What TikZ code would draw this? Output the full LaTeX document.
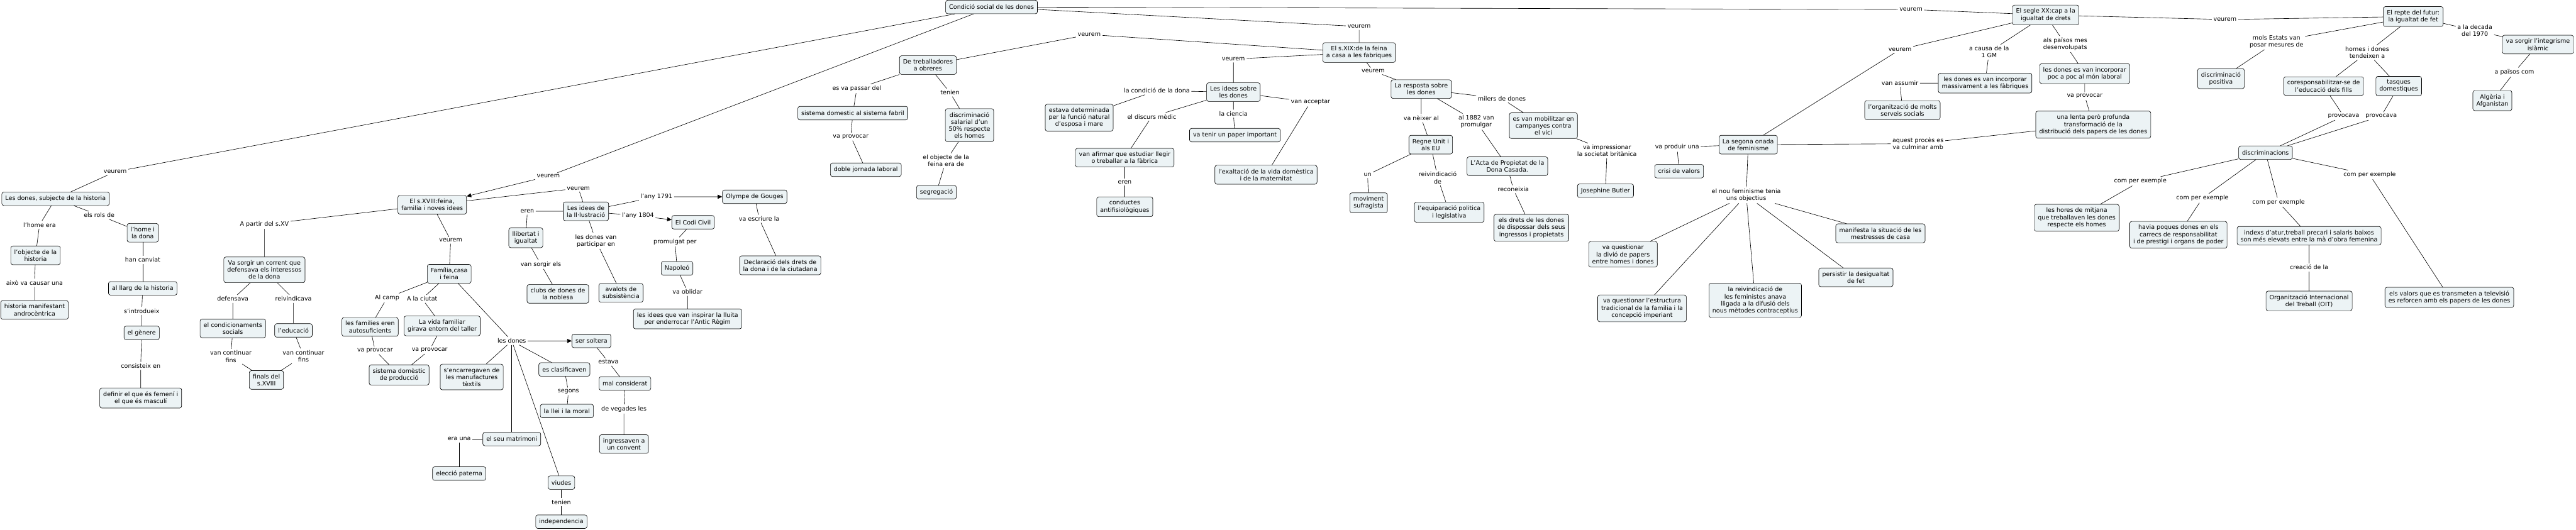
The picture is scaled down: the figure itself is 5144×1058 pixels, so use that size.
\documentclass[tikz,border=0pt]{standalone}
\usepackage{fontspec}
\setmainfont{DejaVu Sans}
\usetikzlibrary{positioning}
\usetikzlibrary{arrows.meta}
\definecolor{boxfill}{RGB}{236,243,245}

\begin{document}
\begin{tikzpicture}[on grid, line width=0.8pt, >={Triangle[length=9pt, width=8pt]}, concept/.style = {draw, rounded corners=4pt, fill=boxfill, align=center, inner xsep=7pt, inner ysep=7pt, minimum height=27pt, font=\fontsize{12}{14}\selectfont}, link/.style = {align=center, inner sep=3pt, font=\fontsize{12}{14}\selectfont}]
            \path[use as bounding box, fill=white] (-1980pt,14pt) rectangle (3164pt,-1044pt);
            \node[concept] (1) {Condició social de les dones};
            \node[link] (l1) [below left=329pt and 1750pt of 1] {veurem};
            \node[concept] (2) [below left=54pt and 119pt of l1] {Les dones, subjecte de la historia};
            \node[link] (l2) [below left=52pt and 32pt of 2] {l'home era};
            \node[concept] (4) [below left=61pt and 8pt of l2] {l'objecte de la\\historia};
            \node[link] (l4) [below left=55pt and 2pt of 4] {això va causar una};
            \node[concept] (5) [below=54pt of l4] {historia manifestant\\androcèntrica};
            \node[link] (l3) [below right=33pt and 87pt of 2] {els rols de};
            \node[concept] (3) [below right=35pt and 87pt of l3] {l'home i\\la dona};
            \node[link] (l5) [below=54pt of 3] {han canviat};
            \node[concept] (6) [below=57pt of l5] {al llarg de la historia};
            \node[link] (l6) [below left=45pt and 2pt of 6] {s'introdueix};
            \node[concept] (7) [below=44pt of l6] {el gènere};
            \node[link] (l7) [below left=66pt and 2pt of 7] {consisteix en};
            \node[concept] (8) [below=64pt of l7] {definir el que és femení i\\el que és masculí};
            \node[link] (l8) [below left=338pt and 885pt of 1] {veurem};
            \node[concept] (9) [below left=57pt and 232pt of l8] {El s.XVIII:feina,\\familia i noves idees};
            \node[link] (l9) [below left=39pt and 335pt of 9] {A partir del s.XV};
            \node[concept] (10) [below=91pt of l9] {Va sorgir un corrent que\\defensava els interessos\\de la dona};
            \node[link] (l10) [below left=58pt and 63pt of 10] {defensava};
            \node[concept] (11) [below=59pt of l10] {el condicionaments\\socials};
            \node[link] (l11) [below right=58pt and 58pt of 10] {reivindicava};
            \node[concept] (12) [below=63pt of l11] {l'educació};
            \node[link] (l12) [below left=56pt and 4pt of 11] {van continuar\\fins};
            \node[concept] (13) [below right=47pt and 71pt of l12] {finals del\\s.XVIII};
            \node[link] (l13) [below right=51pt and 20pt of 12] {van continuar\\fins};
            \node[link] (l14) [below right=71pt and 37pt of 9] {veurem};
            \node[concept] (14) [below left=67pt and 3pt of l14] {Família,casa\\i feina};
            \node[link] (l15) [below left=48pt and 124pt of 14] {Al camp};
            \node[concept] (15) [below left=58pt and 34pt of l15] {les families eren\\autosuficients};
            \node[link] (l16) [below left=50pt and 54pt of 14] {A la ciutat};
            \node[concept] (16) [below right=54pt and 40pt of l16] {La vida familiar\\girava entorn del taller};
            \node[link] (l17) [below right=47pt and 10pt of 15] {va provocar};
            \node[concept] (17) [below right=49pt and 48pt of l17] {sistema domèstic\\de producció};
            \node[link] (l18) [below left=48pt and 25pt of 16] {va provocar};
            \node[link] (l19) [below right=134pt and 125pt of 14] {les dones};
            \node[concept] (18) [right=159pt of l19] {ser soltera};
            \node[link] (l20) [below right=42pt and 34pt of 18] {estava};
            \node[concept] (19) [below right=43pt and 33pt of l20] {mal considerat};
            \node[link] (l21) [below left=51pt and 2pt of 19] {de vegades les};
            \node[concept] (20) [below=70pt of l21] {ingressaven a\\un convent};
            \node[concept] (21) [below left=72pt and 80pt of l19] {s'encarregaven de\\les manufactures\\tèxtils};
            \node[concept] (22) [below right=57pt and 105pt of l19] {es clasificaven};
            \node[link] (l22) [below right=44pt and 8pt of 22] {segons};
            \node[concept] (23) [below left=39pt and 3pt of l22] {la llei i la moral};
            \node[concept] (24) [below=196pt of l19] {el seu matrimoni};
            \node[link] (l23) [left=105pt of 24] {era una};
            \node[concept] (25) [below=69pt of l23] {elecció paterna};
            \node[concept] (26) [below right=283pt and 99pt of l19] {viudes};
            \node[link] (l24) [below=39pt of 26] {tenien};
            \node[concept] (27) [below=39pt of l24] {independencia};
            \node[link] (l25) [above right=33pt and 292pt of 9] {veurem};
            \node[concept] (28) [below right=46pt and 15pt of l25] {Les idees de\\la Il·lustració};
            \node[link] (l26) [left=117pt of 28] {eren};
            \node[concept] (29) [below left=53pt and 3pt of l26] {llibertat i\\igualtat};
            \node[link] (l27) [below right=53pt and 30pt of 29] {van sorgir els};
            \node[concept] (30) [below right=59pt and 34pt of l27] {clubs de dones de\\la noblesa};
            \node[link] (l28) [below right=59pt and 20pt of 28] {les dones van\\participar en};
            \node[concept] (31) [below right=104pt and 50pt of l28] {avalots de\\subsistència};
            \node[link] (l29) [above right=29pt and 141pt of 28] {l'any 1791};
            \node[concept] (32) [right=196pt of l29] {Olympe de Gouges};
            \node[link] (l30) [below right=44pt and 9pt of 32] {va escriure la};
            \node[concept] (33) [below right=93pt and 42pt of l30] {Declaració dels drets de\\la dona i de la ciutadana};
            \node[link] (l31) [below right=9pt and 104pt of 28] {l'any 1804};
            \node[concept] (34) [below right=13pt and 110pt of l31] {El Codi Civil};
            \node[link] (l32) [below left=39pt and 36pt of 34] {promulgat per};
            \node[concept] (35) [below right=53pt and 4pt of l32] {Napoleó};
            \node[link] (l33) [below right=47pt and 21pt of 35] {va oblidar};
            \node[concept] (36) [below=54pt of l33] {les idees que van inspirar la lluita\\per enderrocar l'Antic Règim};
            \node[link] (l39) [below right=39pt and 734pt of 1] {veurem};
            \node[concept] (42) [below=52pt of l39] {El s.XIX:de la feina\\a casa a les fabriques};
            \node[link] (l34) [above left=36pt and 539pt of 42] {veurem};
            \node[concept] (37) [below left=61pt and 322pt of l34] {De treballadores\\a obreres};
            \node[link] (l35) [below left=47pt and 142pt of 37] {es va passar del};
            \node[concept] (38) [below left=49pt and 8pt of l35] {sistema domestic al sistema fabril};
            \node[link] (l36) [below left=47pt and 4pt of 38] {va provocar};
            \node[concept] (39) [below right=66pt and 30pt of l36] {doble jornada laboral};
            \node[link] (l37) [below right=55pt and 44pt of 37] {tenien};
            \node[concept] (40) [below right=65pt and 39pt of l37] {discriminació\\salarial d'un\\50\% respecte\\els homes};
            \node[link] (l38) [below left=71pt and 47pt of 40] {el objecte de la\\feina era de};
            \node[concept] (41) [below left=63pt and 19pt of l38] {segregació};
            \node[link] (l40) [below left=13pt and 251pt of 42] {veurem};
            \node[concept] (43) [below=66pt of l40] {Les idees sobre\\les dones};
            \node[link] (l41) [above left=3pt and 153pt of 43] {la condició de la dona};
            \node[concept] (44) [below left=54pt and 155pt of l41] {estava determinada\\per la funció natural\\d'esposa i mare};
            \node[link] (l42) [below left=49pt and 163pt of 43] {el discurs mèdic};
            \node[concept] (45) [below left=82pt and 54pt of l42] {van afirmar que estudiar llegir\\o treballar a la fàbrica};
            \node[link] (l43) [below=49pt of 45] {eren};
            \node[concept] (46) [below=49pt of l43] {conductes\\antifisiològiques};
            \node[link] (l44) [below=43pt of 43] {la ciencia};
            \node[concept] (47) [below right=43pt and 3pt of l44] {va tenir un paper important};
            \node[link] (l45) [below right=20pt and 154pt of 43] {van acceptar};
            \node[concept] (48) [below left=145pt and 89pt of l45] {l'exaltació de la vida domèstica\\i de la maternitat};
            \node[link] (l46) [below right=37pt and 28pt of 42] {veurem};
            \node[concept] (49) [below right=36pt and 96pt of l46] {La resposta sobre\\les dones};
            \node[link] (l47) [below=58pt of 49] {va nèixer al};
            \node[concept] (50) [below right=53pt and 19pt of l47] {Regne Unit i\\als EU};
            \node[link] (l48) [below left=60pt and 126pt of 50] {un};
            \node[concept] (51) [below right=56pt and 2pt of l48] {moviment\\sufragista};
            \node[link] (l49) [below right=66pt and 14pt of 50] {reivindicació\\de};
            \node[concept] (52) [below right=69pt and 23pt of l49] {l'equiparació politica\\i legislativa};
            \node[link] (l50) [below right=65pt and 110pt of 49] {al 1882 van\\promulgar};
            \node[concept] (53) [below right=89pt and 62pt of l50] {L'Acta de Propietat de la\\Dona Casada.};
            \node[link] (l51) [below right=46pt and 12pt of 53] {reconeixia};
            \node[concept] (54) [below right=77pt and 36pt of l51] {els drets de les dones\\de dispossar dels seus\\ingressos i propietats};
            \node[link] (l52) [below right=19pt and 161pt of 49] {milers de dones};
            \node[concept] (55) [below right=54pt and 83pt of l52] {es van mobilitzar en\\campanyes contra\\el vici};
            \node[link] (l53) [below right=50pt and 127pt of 55] {va impressionar\\la societat britànica};
            \node[concept] (56) [below left=80pt and 3pt of l53] {Josephine Butler};
            \node[link] (l54) [below right=5pt and 1836pt of 1] {veurem};
            \node[concept] (57) [below right=11pt and 269pt of l54] {El segle XX:cap a la\\igualtat de drets};
            \node[link] (l55) [below left=69pt and 291pt of 57] {veurem};
            \node[concept] (58) [below left=190pt and 303pt of l55] {La segona onada\\de feminisme};
            \node[link] (l56) [below left=5pt and 142pt of 58] {va produir una};
            \node[concept] (59) [below right=48pt and 4pt of l56] {crisi de valors};
            \node[link] (l57) [below left=101pt and 4pt of 58] {el nou feminisme tenia\\uns objectius};
            \node[concept] (60) [below left=118pt and 246pt of l57] {va questionar\\la divió de papers\\entre homes i dones};
            \node[concept] (61) [below left=226pt and 208pt of l57] {va questionar l'estructura\\tradicional de la familia i la\\concepció imperiant};
            \node[concept] (62) [below right=210pt and 18pt of l57] {la reivindicació de\\les feministes anava\\lligada a la difusió dels\\nous mètodes contraceptius};
            \node[concept] (63) [below right=164pt and 219pt of l57] {persistir la desigualtat\\de fet};
            \node[concept] (64) [below right=76pt and 268pt of l57] {manifesta la situació de les\\mestresses de casa};
            \node[link] (l58) [below left=74pt and 113pt of 57] {a causa de la\\1 GM};
            \node[concept] (65) [below left=62pt and 8pt of l58] {les dones es van incorporar\\massivament a les fàbriques};
            \node[link] (l59) [left=170pt of 65] {van assumir};
            \node[concept] (66) [below right=54pt and 5pt of l59] {l'organització de molts\\serveis socials};
            \node[link] (l60) [below right=58pt and 39pt of 57] {als països mes\\desenvolupats};
            \node[concept] (67) [below right=59pt and 39pt of l60] {les dones es van incorporar\\poc a poc al món laboral};
            \node[link] (l61) [below=45pt of 67] {va provocar};
            \node[concept] (68) [below right=57pt and 17pt of l61] {una lenta però profunda\\transformació de la\\distribució dels papers de les dones};
            \node[link] (l62) [below left=38pt and 350pt of 68] {aquest procès es\\va culminar amb};
            \node[link] (l63) [below right=9pt and 358pt of 57] {veurem};
            \node[concept] (69) [above right=6pt and 376pt of l63] {El repte del futur:\\la igualtat de fet};
            \node[link] (l64) [below left=50pt and 273pt of 69] {mols Estats van\\posar mesures de};
            \node[concept] (70) [below left=74pt and 111pt of l64] {discriminació\\positiva};
            \node[link] (l65) [below left=72pt and 92pt of 69] {homes i dones\\tendeixen a};
            \node[concept] (71) [below left=67pt and 87pt of l65] {coresponsabilitzar-se de\\l'educació dels fills};
            \node[concept] (72) [below right=67pt and 63pt of l65] {tasques\\domestiques};
            \node[link] (l66) [below right=60pt and 40pt of 71] {provocava};
            \node[link] (l67) [below left=60pt and 35pt of 72] {provocava};
            \node[concept] (73) [below left=73pt and 156pt of l66] {discriminacions};
            \node[link] (l68) [below left=57pt and 250pt of 73] {com per exemple};
            \node[concept] (74) [below left=73pt and 127pt of l68] {les hores de mitjana\\que treballaven les dones\\respecte els homes};
            \node[link] (l69) [below left=91pt and 126pt of 73] {com per exemple};
            \node[concept] (75) [below left=73pt and 48pt of l69] {havia poques dones en els\\carrecs de responsabilitat\\i de prestigi i organs de poder};
            \node[link] (l70) [below right=99pt and 26pt of 73] {com per exemple};
            \node[concept] (76) [below right=67pt and 61pt of l70] {indexs d'atur,treball precari i salaris baixos\\son més elevats entre la mà d'obra femenina};
            \node[link] (l71) [below=63pt of 76] {creació de la};
            \node[concept] (77) [below=67pt of l71] {Organització Internacional\\del Treball (OIT)};
            \node[link] (l72) [below right=44pt and 208pt of 73] {com per exemple};
            \node[concept] (78) [below right=245pt and 159pt of l72] {els valors que es transmeten a televisió\\es reforcen amb els papers de les dones};
            \node[link] (l73) [below right=28pt and 123pt of 69] {a la decada\\del 1970};
            \node[concept] (79) [below right=28pt and 126pt of l73] {va sorgir l'integrisme\\islàmic};
            \node[link] (l74) [below left=55pt and 47pt of 79] {a països com};
            \node[concept] (80) [below left=57pt and 44pt of l74] {Algèria i\\Afganistan};
            \draw (1) to (l1) to (2);
            \draw (2) to (l2) to (4);
            \draw (4) to (l4) to (5);
            \draw (2) to (l3) to (3);
            \draw (3) to (l5) to (6);
            \draw (6) to (l6) to (7);
            \draw (7) to (l7) to (8);
            \draw [->] (1) to (l8) to (9);
            \draw (9) to (l9) to (10);
            \draw (10) to (l10) to (11);
            \draw (10) to (l11) to (12);
            \draw (11) to (l12) to (13);
            \draw (12) to (l13) to (13);
            \draw (9) to (l14) to (14);
            \draw (14) to (l15) to (15);
            \draw (14) to (l16) to (16);
            \draw (15) to (l17) to (17);
            \draw (16) to (l18) to (17);
            \draw [->] (14) to (l19) to (18);
            \draw (l19) to (21);
            \draw (l19) to (22);
            \draw (l19) to (24);
            \draw (l19) to (26);
            \draw (18) to (l20) to (19);
            \draw (19) to (l21) to (20);
            \draw (22) to (l22) to (23);
            \draw (24) to (l23) to (25);
            \draw (26) to (l24) to (27);
            \draw (9) to (l25) to (28);
            \draw (28) to (l26) to (29);
            \draw (29) to (l27) to (30);
            \draw (28) to (l28) to (31);
            \draw [->] (28) to (l29) to (32);
            \draw (32) to (l30) to (33);
            \draw [->] (28) to (l31) to (34);
            \draw (34) to (l32) to (35);
            \draw (35) to (l33) to (36);
            \draw (1) to (l39) to (42);
            \draw (42) to (l34) to (37);
            \draw (37) to (l35) to (38);
            \draw (38) to (l36) to (39);
            \draw (37) to (l37) to (40);
            \draw (40) to (l38) to (41);
            \draw (42) to (l40) to (43);
            \draw (43) to (l41) to (44);
            \draw (43) to (l42) to (45);
            \draw (45) to (l43) to (46);
            \draw (43) to (l44) to (47);
            \draw (43) to (l45) to (48);
            \draw (42) to (l46) to (49);
            \draw (49) to (l47) to (50);
            \draw (50) to (l48) to (51);
            \draw (50) to (l49) to (52);
            \draw (49) to (l50) to (53);
            \draw (53) to (l51) to (54);
            \draw (49) to (l52) to (55);
            \draw (55) to (l53) to (56);
            \draw (1) to (l54) to (57);
            \draw (57) to (l55) to (58);
            \draw (58) to (l56) to (59);
            \draw (58) to (l57);
            \draw (l57) to (60);
            \draw (l57) to (61);
            \draw (l57) to (62);
            \draw (l57) to (63);
            \draw (l57) to (64);
            \draw (57) to (l58) to (65);
            \draw (65) to (l59) to (66);
            \draw (57) to (l60) to (67);
            \draw (67) to (l61) to (68);
            \draw (68) to (l62) to (58);
            \draw (57) to (l63) to (69);
            \draw (69) to (l64) to (70);
            \draw (69) to (l65);
            \draw (l65) to (71);
            \draw (l65) to (72);
            \draw (71) to (l66) to (73);
            \draw (72) to (l67) to (73);
            \draw (73) to (l68) to (74);
            \draw (73) to (l69) to (75);
            \draw (73) to (l70) to (76);
            \draw (76) to (l71) to (77);
            \draw (73) to (l72) to (78);
            \draw (69) to (l73) to (79);
            \draw (79) to (l74) to (80);
        \end{tikzpicture}
\end{document}
